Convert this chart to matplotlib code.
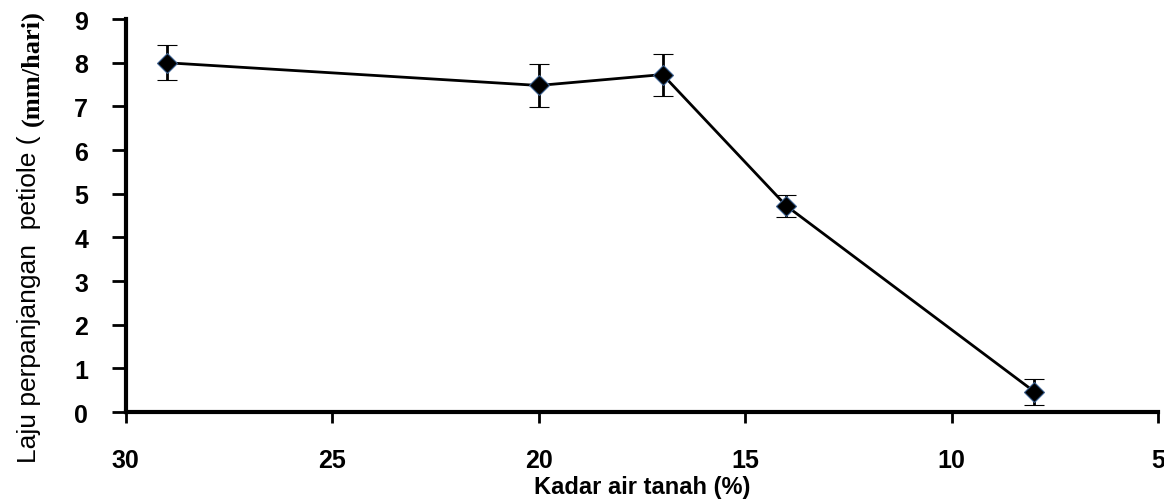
import matplotlib
matplotlib.use("Agg")
import matplotlib.pyplot as plt

# kadar air tanah (%) vs laju perpanjangan petiole (mm/hari)
kadar_air = [29, 20, 17, 14, 8]
laju = [8.0, 7.48, 7.73, 4.72, 0.47]
galat = [0.4, 0.5, 0.48, 0.25, 0.3]

x_ticks = [30, 25, 20, 15, 10, 5]
y_ticks = list(range(0, 10))


def main():
    fig = plt.figure(figsize=(11.64, 5.02), dpi=100)
    ax = fig.add_axes([0.108, 0.177, 0.887, 0.783])

    ax.errorbar(kadar_air, laju, yerr=galat, color="black", lw=2,
                marker="D", ms=10, mfc="black", mec="#3a5f8f", mew=0.8,
                ecolor="black", elinewidth=2, capsize=7, capthick=2)

    ax.set_xlim(30, 5)
    ax.set_ylim(0, 9)
    ax.set_xticks(x_ticks)
    ax.set_yticks(y_ticks)

    for side in ["top", "right"]:
        ax.spines[side].set_visible(False)
    for side in ["left", "bottom"]:
        ax.spines[side].set_linewidth(3)

    ax.tick_params(axis="y", length=10, width=2, direction="out", pad=17)
    ax.tick_params(axis="x", length=8, width=2, direction="out", pad=18)
    for lab in ax.get_yticklabels():
        lab.set_family(["Liberation Sans", "DejaVu Sans"])
        lab.set_fontsize(18)
        lab.set_fontweight("bold")
    for lab in ax.get_xticklabels():
        lab.set_family(["Liberation Sans", "DejaVu Sans"])
        lab.set_fontsize(18)
        lab.set_fontweight("bold")

    # x label placed by hand so it stays inside the image
    fig.text(0.5 * (0.108 + 0.995), 1 - 488 / 502, "Kadar air tanah (%)",
             ha="center", va="center", fontsize=17, fontweight="bold",
             family=["Liberation Sans", "DejaVu Sans"])

    # y label: sans part + serif bold unit
    fig.text(0.025, 1 - 463 / 502, "Laju perpanjangan  petiole (", rotation=90,
             ha="center", va="bottom", fontsize=19,
             family=["Liberation Sans", "DejaVu Sans"])
    fig.text(0.028, 1 - 126 / 502, "(mm/hari)", rotation=90,
             ha="center", va="bottom", fontsize=19, fontweight="bold",
             family=["Liberation Serif", "DejaVu Serif"])

    fig.savefig("out.png", dpi=100)


if __name__ == "__main__":
    main()
